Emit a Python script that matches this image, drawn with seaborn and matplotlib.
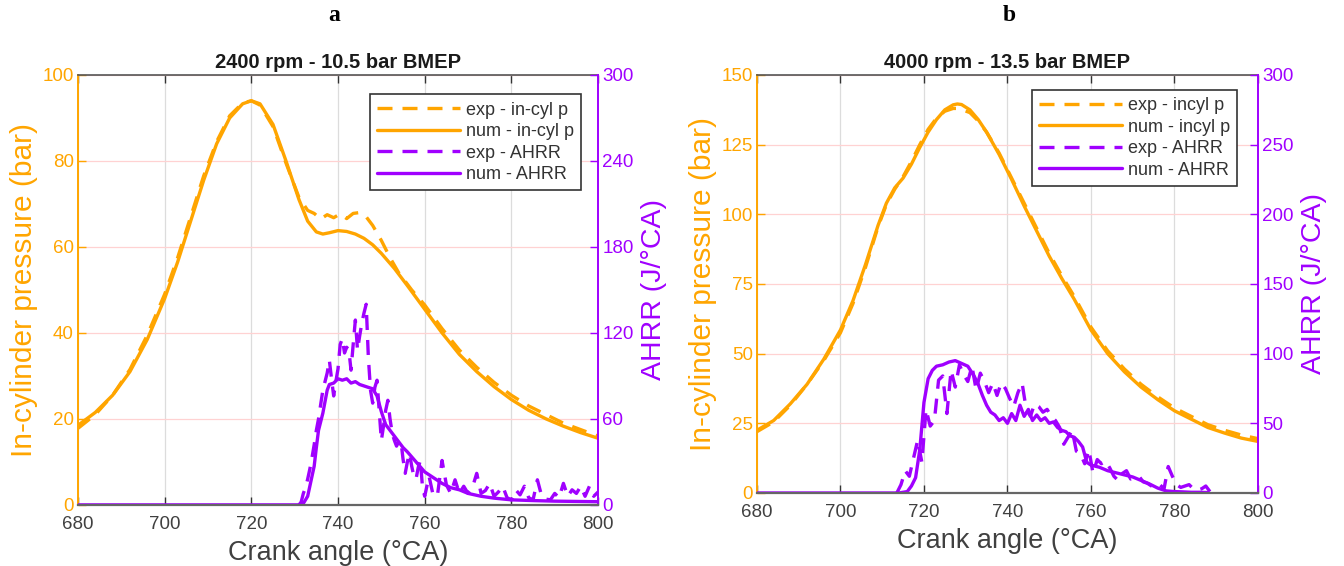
import numpy as np
import pandas as pd
import matplotlib
matplotlib.use("Agg")
import matplotlib.pyplot as plt
from matplotlib.lines import Line2D
import seaborn as sns

# ---------------- data ----------------
# Panel a : 2400 rpm - 10.5 bar BMEP
pa_num_x = [680,684,688,692,696,700,703,706,709,712,715,718,720,722,725,728,731,733,735,736.5,738,740,742,744,746,748,750,753,756,760,764,768,772,776,780,784,788,792,796,800]
pa_num_y = [18.5,21.5,25.5,31,38.5,48,56.5,66,75.5,84,90,93.3,94,93.3,88.5,80,71,66,63.5,63,63.3,63.8,63.6,63,62,60.5,58.5,55,51,45.5,40,35,31,27.5,24.5,22,20,18.3,16.8,15.5]
pa_exp_x = [680,684,688,692,696,700,703,706,709,712,715,718,720,722,725,728,731,733,734.5,736,737.5,739,740.5,742,743.5,745,746.5,748,750,752,754,757,760,764,768,772,776,780,784,788,792,796,800]
pa_exp_y = [17.8,21,25.5,31.5,39.5,49,57.5,67,76.5,84.5,90.5,93.5,94,93,88,79.5,71.5,68.5,67.8,66.5,67.5,66.8,67.7,66.6,67.8,68,67,65,61.5,57.5,54,50,46.5,41,36,32,28.5,25.5,23,21,19,17.5,16]

ha_num_x = [680,700,720,731,732,733,733.5,734,734.5,735,735.5,736,736.5,737,737.5,738,739,740,741,742,743,744,745,746,747,748,749,750,751,752,753,754,755,756,758,760,762,764,766,768,770,773,776,780,785,790,795,800]
ha_num_y = [0,0,0,0,1,6,13,20,27,40,52,58,64,72,80,84,85,88,87,88,85,86,84,83,82,81,76,65,56,52,48,44,40,37,30,23,19,15,12,10.5,8,6,4.7,3.5,3,2.6,2.4,2.2]
ha_exp_x = list(np.arange(731, 760.25, 0.5)) + list(np.arange(761, 800.5, 1.0))
ha_exp_y = [0,2,8,12,18,25,33,42,52,60,
            70,80,86,92,101,88,76,86,95,112,
            116,106,110,108,94,112,129,108,118,127,
            134,140,103,80,71,82,87,66,45,55,
            66,73,60,50,45,41,44,45,32,22,
            30,36,27,20,18,26,31,12,6,
            20,6,8,31,14,8,17.5,8,13,8,
            12,22,8,10,15,6,9,13,5,3.5,
            10.5,7,13,5,3.5,17.5,6,4,3.5,8,
            5,15,6,10.5,8,13,6,13,6,9]

# Panel b : 4000 rpm - 13.5 bar BMEP
pb_x = [680,684,688,692,696,700,703,706,709,711,713,715,717,719,721,723,725,727,728,729,731,733,735,738,741,744,747,750,753,756,760,764,768,772,776,780,784,788,792,796,800]
pb_num_y = [22.5,26,32,39,48,58.5,69,82,96,104,109.5,113,118,124,129.5,134,137.5,139.3,139.6,139.4,137.5,134,129.5,121.5,112.5,103,94,85,77,69.5,58.5,50,43.5,38,33.5,29.5,26.5,23.5,21.5,19.7,18.5]
pb_exp_y = [22,25.5,31.5,39,47.5,57.5,68,81,95.5,103.5,109,113.5,119,125,130.5,134.5,137,138,138,137.6,136.5,133.5,129.5,122,113,104,95,86,78,70.5,59.5,51,44.5,39,34.5,30.5,27.5,24.5,22.5,20.8,19.5]

hb_num_x = [680,700,714,716,717,718,719,720,721,722,723,724.5,726,727.5,729,730.5,732,733,734,735,736,737,738,739,740,741,742,743,744,745,746,747,748,749,750,751,752,753,754,755,756,757,758,759,760,762,764,766,768,770,772,774,776,778,780,782,784,786,788]
hb_num_y = [0,0,0,1,5,11,31,65,82,88,91,92,94,95,93,91,84,78,70,63,58,56,52,54,50,57,52,63,55,60,52,56,52,54,50,51,47,45,44,41,40,37,33,22,20,18.5,16,14.5,13,11.5,9,6.5,3.5,1.5,1,0.8,0.5,0.5,0.3]
hb_exp_x = list(np.arange(713.5, 789, 1.0))
hb_exp_y = [0,6,16,12,25,38,22,60,48,52,
            81,84,57,88,76,92,85,80,91,74,
            86,80,72,79,70,79,75,68,62,72,
            79,60,55,64,62,58,60,55,52,47,
            35,40,45,30,28,21,31,14,24,21,
            23,18,12,9,14,16,10,11,12,8,
            7,5,4,6,3,19,12,6,4,5,
            6,3,2,3,5,1]

xticks = [680,700,720,740,760,780,800]
a_left_ticks = [0,20,40,60,80,100]
a_right_ticks = [0,60,120,180,240,300]
b_left_ticks = [0,25,50,75,100,125,150]
b_right_ticks = [0,50,100,150,200,250,300]

titles = ["2400 rpm - 10.5 bar BMEP", "4000 rpm - 13.5 bar BMEP"]
labels_a = ["exp - in-cyl p", "num - in-cyl p", "exp - AHRR", "num - AHRR"]
labels_b = ["exp - incyl p", "num - incyl p", "exp - AHRR", "num - AHRR"]

# ---------------- style ----------------
sns.set_theme(style="white")
plt.rcParams['font.family'] = ['Liberation Sans', 'DejaVu Sans']
ORANGE = '#FFA500'
PURPLE = '#A000FF'
GREY = '#404040'
DASH = (0, (4.5, 3))
LW = 2.4

fig = plt.figure(figsize=(13.44, 5.66), dpi=100)
ax_a = fig.add_axes([0.058, 0.108, 0.387, 0.7595])
ax_b = fig.add_axes([0.5632, 0.129, 0.3728, 0.7385])


def panel(ax, p_exp_x, p_exp_y, p_num_x, p_num_y, h_exp_x, h_exp_y, h_num_x, h_num_y,
          lticks, rticks, title, labels, leg_anchor):
    axr = ax.twinx()
    sns.lineplot(x=p_exp_x, y=p_exp_y, ax=ax, color=ORANGE, lw=LW, linestyle=DASH,
                 estimator=None, sort=False, errorbar=None)
    sns.lineplot(x=p_num_x, y=p_num_y, ax=ax, color=ORANGE, lw=LW,
                 estimator=None, sort=False, errorbar=None)
    sns.lineplot(x=h_exp_x, y=h_exp_y, ax=axr, color=PURPLE, lw=LW, linestyle=DASH,
                 estimator=None, sort=False, errorbar=None)
    sns.lineplot(x=h_num_x, y=h_num_y, ax=axr, color=PURPLE, lw=LW,
                 estimator=None, sort=False, errorbar=None)

    ax.set_xlim(680, 800)
    ax.set_ylim(lticks[0], lticks[-1])
    axr.set_ylim(rticks[0], rticks[-1])
    ax.set_xticks(xticks)
    ax.set_yticks(lticks)
    axr.set_yticks(rticks)

    ax.grid(True, axis='x', color='#dcdcdc', lw=0.9)
    ax.grid(True, axis='y', color='#ffd2d2', lw=0.9)
    axr.grid(False)

    for s in ['top', 'bottom']:
        ax.spines[s].set_color('#555555')
        ax.spines[s].set_linewidth(1.2)
    axr.spines['top'].set_visible(False)
    axr.spines['bottom'].set_color('#666666')
    axr.spines['bottom'].set_linewidth(1.6)
    ax.spines['left'].set_color(ORANGE)
    ax.spines['left'].set_linewidth(1.4)
    ax.spines['right'].set_visible(False)
    axr.spines['left'].set_visible(False)
    axr.spines['right'].set_color(PURPLE)
    axr.spines['right'].set_linewidth(1.4)

    ax.tick_params(axis='x', direction='in', top=True, bottom=True, length=6, width=1,
                   color='#333333', labelcolor=GREY, labelsize=13.5, pad=8)
    ax.tick_params(axis='y', direction='in', left=True, length=6, width=1,
                   color=ORANGE, labelcolor=ORANGE, labelsize=13.5, pad=3)
    axr.tick_params(axis='y', direction='in', right=True, length=6, width=1,
                    color=PURPLE, labelcolor=PURPLE, labelsize=13.5, pad=3)

    ax.set_xlabel("Crank angle (°CA)", color=GREY, fontsize=19.5, labelpad=5)
    ax.set_ylabel("In-cylinder pressure (bar)", color=ORANGE, fontsize=21.5, labelpad=3)
    axr.set_ylabel("AHRR (J/°CA)", color=PURPLE, fontsize=20.5, labelpad=5)
    ax.set_title(title, fontweight='bold', fontsize=14.5, color='#1a1a1a', pad=5)

    handles = [Line2D([], [], color=ORANGE, lw=LW, linestyle=DASH),
               Line2D([], [], color=ORANGE, lw=LW),
               Line2D([], [], color=PURPLE, lw=LW, linestyle=DASH),
               Line2D([], [], color=PURPLE, lw=LW)]
    leg = axr.legend(handles, labels, loc='upper right', bbox_to_anchor=leg_anchor,
                     borderaxespad=0, fontsize=13, handlelength=4.6, handletextpad=0.3,
                     labelspacing=0.25, borderpad=0.4, frameon=True, fancybox=False,
                     framealpha=1)
    leg.get_frame().set_edgecolor('#333333')
    leg.get_frame().set_linewidth(1.2)
    for t in leg.get_texts():
        t.set_color('#333333')
    return axr


panel(ax_a, pa_exp_x, pa_exp_y, pa_num_x, pa_num_y, ha_exp_x, ha_exp_y, ha_num_x, ha_num_y,
      a_left_ticks, a_right_ticks, titles[0], labels_a, (0.967, 0.955))
panel(ax_b, pb_x, pb_exp_y, pb_x, pb_num_y, hb_exp_x, hb_exp_y, hb_num_x, hb_num_y,
      b_left_ticks, b_right_ticks, titles[1], labels_b, (0.958, 0.964))

fig.text(0.249, 0.972, "a", ha='center', va='center', fontsize=17, fontweight='bold',
         family='Liberation Serif', color='black')
fig.text(0.751, 0.972, "b", ha='center', va='center', fontsize=17, fontweight='bold',
         family='Liberation Serif', color='black')

fig.savefig("out.png", dpi=100)
